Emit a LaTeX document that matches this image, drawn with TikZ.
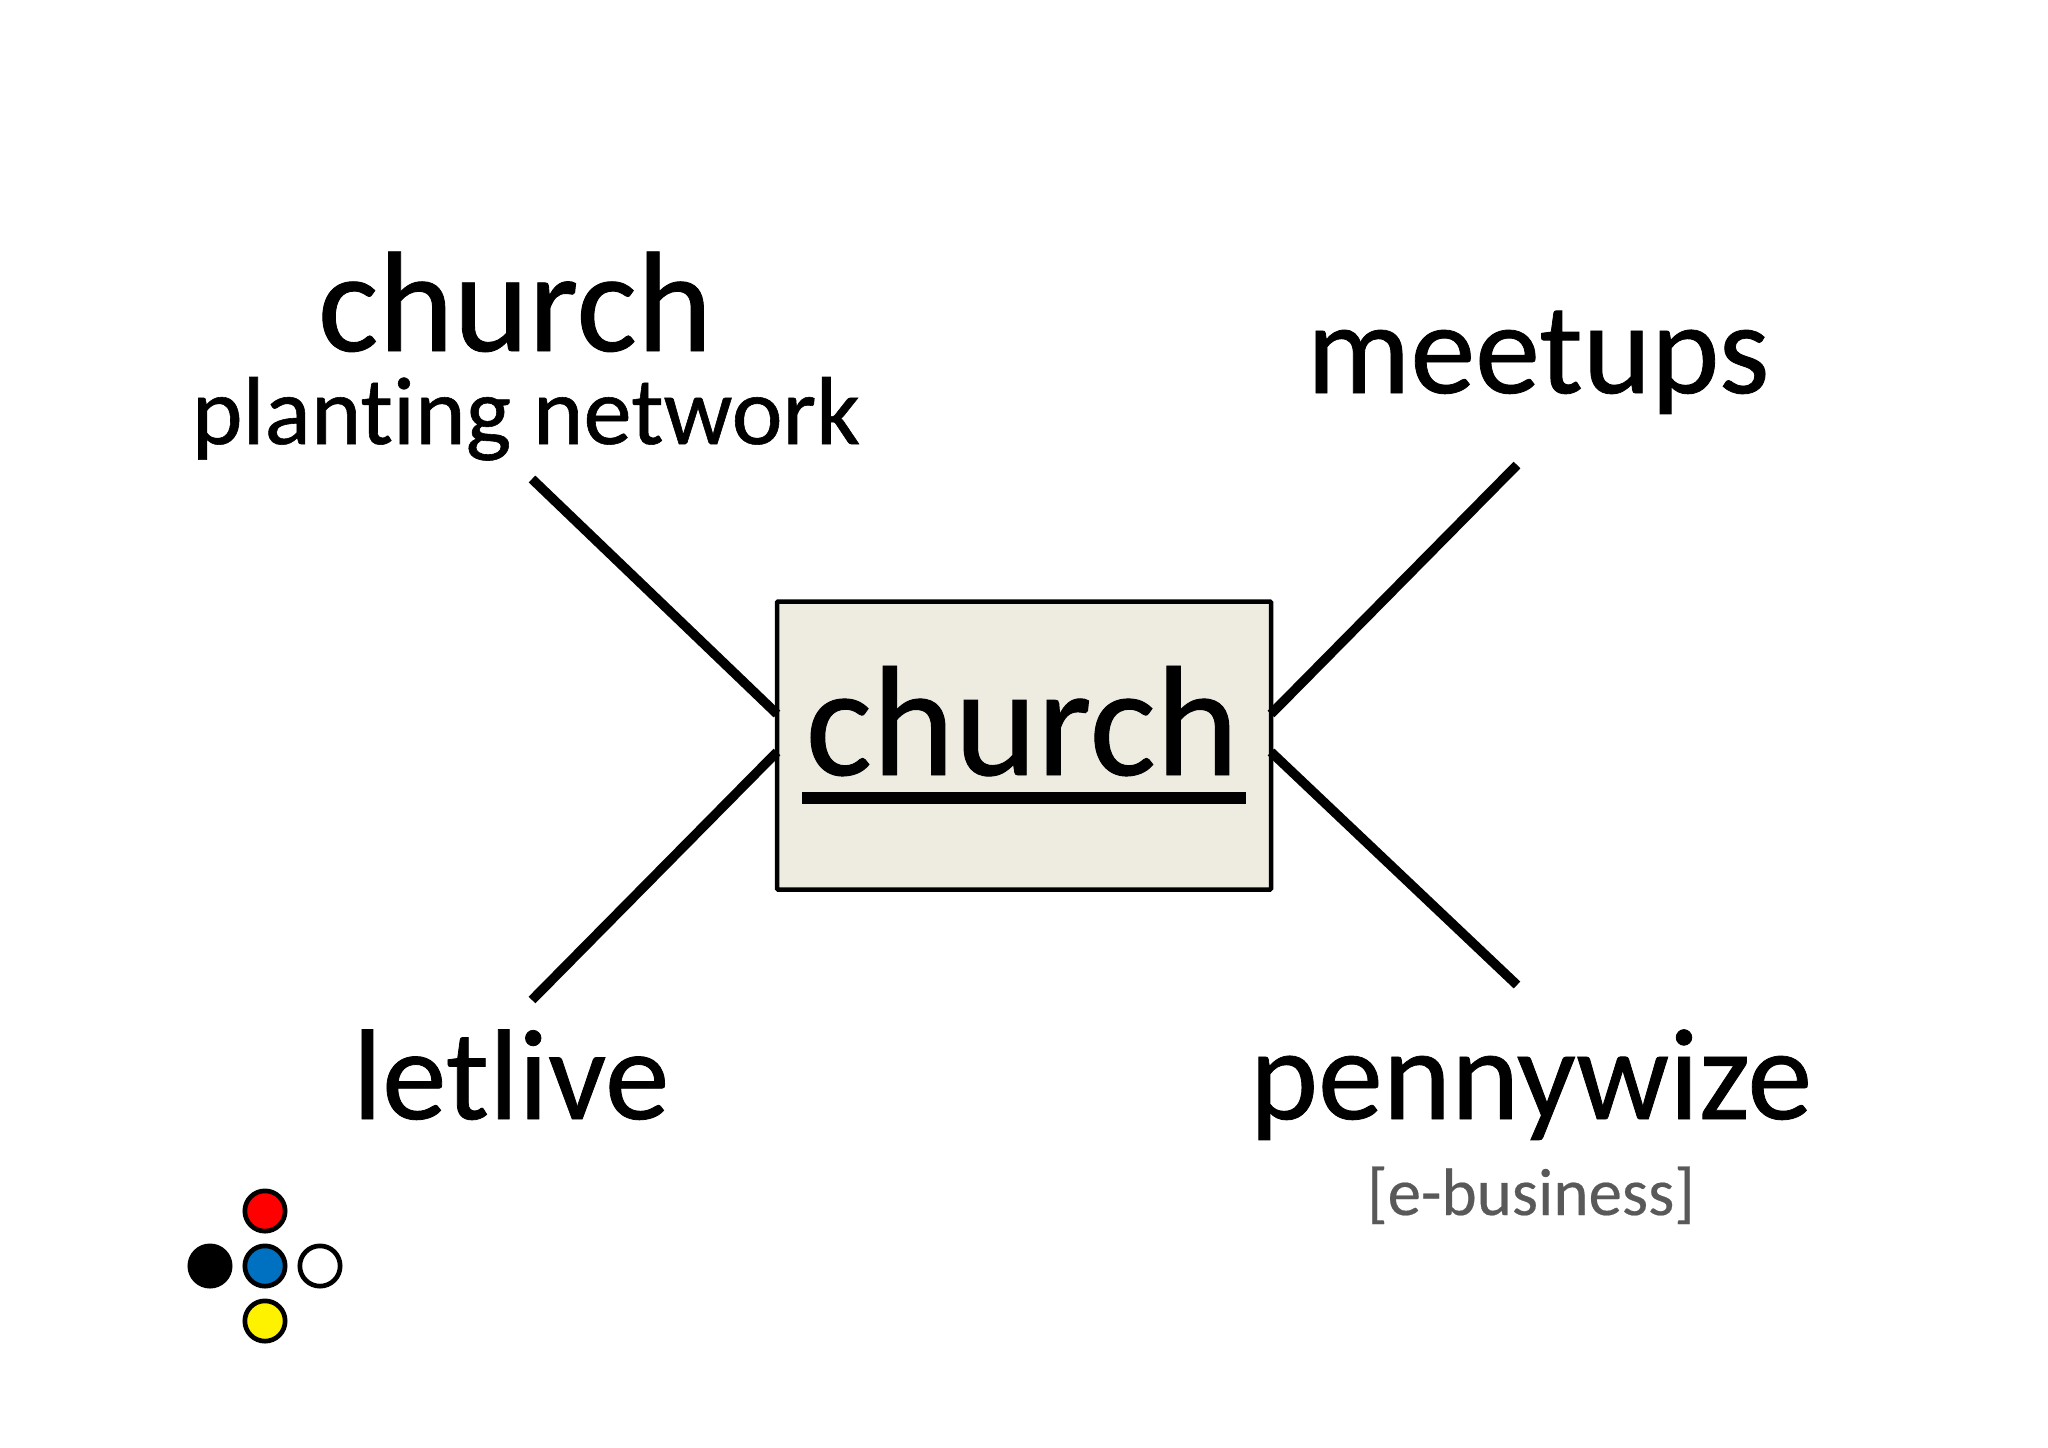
\documentclass[tikz,border=0pt]{standalone}
\usepackage{fontspec}
\setmainfont[Ligatures=NoCommon]{Carlito}
\newfontfamily\heavyfont[Ligatures=NoCommon,FakeBold=0.6]{Carlito}
\newfontfamily\midfont[Ligatures=NoCommon,FakeBold=0.3]{Carlito}
\tikzset{
  x=1pt,y=-1pt,
  lbl/.style={inner sep=0pt,outer sep=0pt,anchor=base,text=black},
  link/.style={line width=9.5pt,black},
  dot/.style={circle,draw=black,line width=4.7pt,minimum size=40.3pt,inner sep=0pt}
}
\definecolor{boxfill}{HTML}{EEECE1}
\definecolor{greytxt}{HTML}{595959}
\definecolor{dotblue}{HTML}{0070C0}
\newcommand{\fs}[1]{\heavyfont\fontsize{#1pt}{#1pt}\selectfont}
\begin{document}
\begin{tikzpicture}
\useasboundingbox (0,0) rectangle (2048,1448);
\fill[white] (0,0) rectangle (2048,1448);
\coordinate (a1) at (532,479);
\coordinate (a2) at (1517,465);
\coordinate (a3) at (532,1000);
\coordinate (a4) at (1517,985);
\node[draw=black,line width=4.5pt,rounded corners=1pt,fill=boxfill,minimum width=494pt,minimum height=288pt,inner sep=0pt,outer sep=0pt] (box) at (1024,745.5) {};
\draw[link] (a1) -- (box.west |- 0,714);
\draw[link] (a2) -- (box.east |- 0,714);
\draw[link] (a3) -- (box.west |- 0,752);
\draw[link] (a4) -- (box.east |- 0,752);
\node[lbl] (main) at (1022,775) {\fs{157}church};
\draw[line width=12pt] (802,798) -- (1246,798);
\node[lbl] (t1) at (515,351) {\fs{143}church};
\node[lbl] (t2) at (526,444) {\fs{96.5}planting network};
\node[lbl] (t3) at (1538,393) {\fs{130}meetups};
\node[lbl] (t4) at (511,1119) {\fs{129}letlive};
\node[lbl] (t5) at (1531,1119) {\fs{130}pennywize};
\node[lbl,text=greytxt] (t6) at (1531,1215) {\midfont\fontsize{67pt}{67pt}\selectfont [e-business]};
\node[dot,fill=red] (d1) at (265,1211) {};
\node[dot,fill=black] (d2) at (210,1266) {};
\node[dot,fill=dotblue] (d3) at (265,1266) {};
\node[dot,fill=white] (d4) at (320,1266) {};
\node[dot,fill=yellow] (d5) at (265,1321) {};
\end{tikzpicture}
\end{document}
